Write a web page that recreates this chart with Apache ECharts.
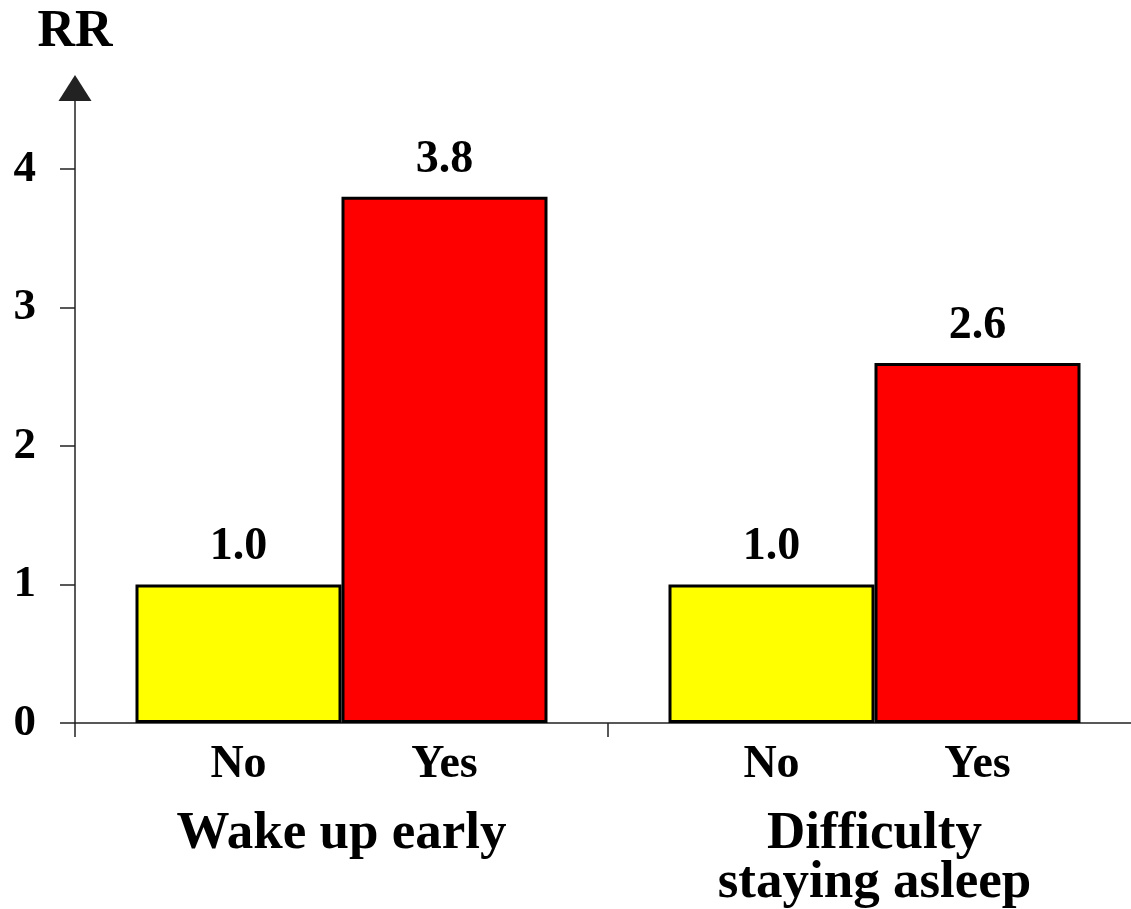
<!DOCTYPE html>
<html>
<head>
<meta charset="utf-8">
<script src="https://cdn.jsdelivr.net/npm/echarts@6/dist/echarts.min.js"></script>
<style>
html,body{margin:0;padding:0;background:#fff;}
#chart{width:1131px;height:909px;}
</style>
</head>
<body>
<div id="chart"></div>
<script>
const categories = ['Wake up early', 'Difficulty\nstaying asleep'];
const subLabels = ['No', 'Yes'];
const noValues = [1.0, 1.0];
const yesValues = [3.8, 2.6];
const yTicks = [0, 1, 2, 3, 4];
const yAxisName = 'RR';

const FONT = '"Liberation Serif", "Times New Roman", serif';
const chart = echarts.init(document.getElementById('chart'));

function catLabel(value) {
  const parts = value.split('\n');
  let s = '{s|' + subLabels[0] + '}{s|' + subLabels[1] + '}\n{g|' + parts[0] + '}';
  for (let i = 1; i < parts.length; i++) s += '\n{h|' + parts[i] + '}';
  return s;
}

chart.setOption({
  animation: false,
  backgroundColor: '#fff',
  grid: { left: 75, right: -10, top: 88, bottom: 186, containLabel: false, outerBoundsMode: 'none' },
  xAxis: {
    type: 'category',
    data: categories,
    boundaryGap: true,
    axisLine: { lineStyle: { color: '#222', width: 1.5 } },
    axisTick: { show: true, length: 14, lineStyle: { color: '#222', width: 1.5 } },
    axisLabel: {
      margin: 16,
      interval: 0,
      color: '#000',
      fontFamily: FONT,
      fontWeight: 'bold',
      formatter: catLabel,
      rich: {
        s: { width: 206, align: 'center', fontSize: 46, lineHeight: 52, fontFamily: FONT, fontWeight: 'bold', color: '#000' },
        g: { fontSize: 53, lineHeight: 86, fontFamily: FONT, fontWeight: 'bold', color: '#000' },
        h: { fontSize: 53, lineHeight: 12, fontFamily: FONT, fontWeight: 'bold', color: '#000' }
      }
    }
  },
  yAxis: {
    type: 'value',
    min: 0,
    max: 4.585,
    interval: 1,
    name: yAxisName,
    nameLocation: 'end',
    nameGap: 55,
    nameTextStyle: { fontFamily: FONT, fontWeight: 'bold', fontSize: 52, color: '#000', align: 'center', verticalAlign: 'middle' },
    splitLine: { show: false },
    axisLine: { show: true, lineStyle: { color: '#222', width: 1.5 }, symbol: ['none', 'triangle'], symbolSize: [33, 26] },
    axisTick: { show: true, length: 15, customValues: yTicks, lineStyle: { color: '#222', width: 1.5 } },
    axisLabel: { margin: 39, customValues: yTicks, fontFamily: FONT, fontWeight: 'bold', fontSize: 45, color: '#000' }
  },
  series: [
    {
      name: subLabels[0],
      type: 'bar',
      data: noValues,
      barWidth: 206,
      barGap: '0%',
      itemStyle: { color: '#FFFF00', borderColor: '#000', borderWidth: 3 },
      label: { show: true, position: 'top', distance: 14, formatter: p => p.value.toFixed(1), fontFamily: FONT, fontWeight: 'bold', fontSize: 46, color: '#000' }
    },
    {
      name: subLabels[1],
      type: 'bar',
      data: yesValues,
      barWidth: 206,
      barGap: '0%',
      itemStyle: { color: '#FF0000', borderColor: '#000', borderWidth: 3 },
      label: { show: true, position: 'top', distance: 14, formatter: p => p.value.toFixed(1), fontFamily: FONT, fontWeight: 'bold', fontSize: 46, color: '#000' }
    }
  ]
});
</script>
</body>
</html>
